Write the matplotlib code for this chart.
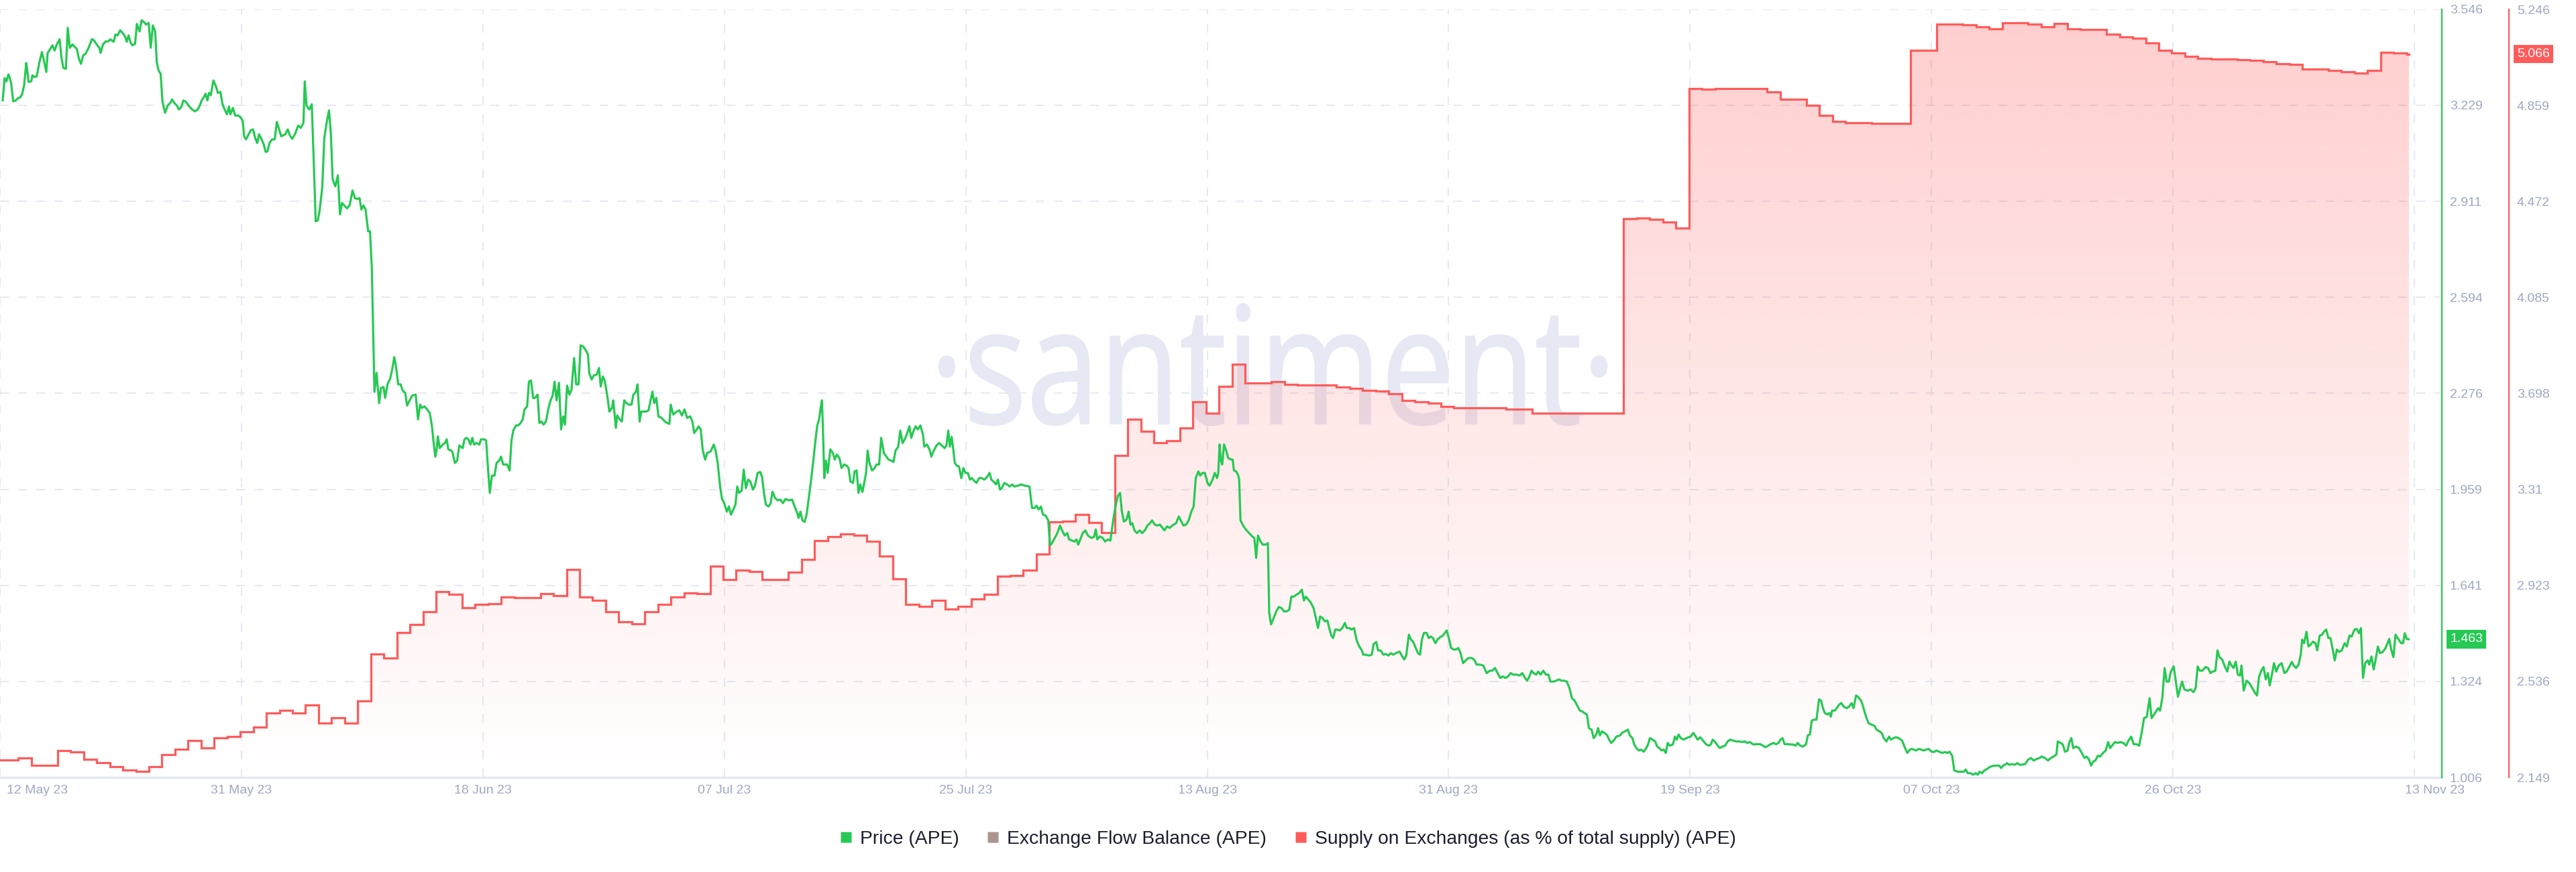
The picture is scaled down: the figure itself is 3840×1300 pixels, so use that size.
import numpy as np
import pandas as pd
import matplotlib
matplotlib.use("Agg")
import matplotlib.pyplot as plt
import matplotlib.dates as mdates
from matplotlib.colors import to_rgb
from matplotlib.font_manager import FontProperties
from matplotlib.lines import Line2D
from matplotlib.patches import PathPatch
from matplotlib.textpath import TextPath
from matplotlib.transforms import Affine2D, ScaledTranslation, blended_transform_factory

# ---------------- data ----------------
start_date = "2023-05-12"

# price of APE: time in days since 12 May 2023 00:00, value in USD
price_day = [
    0.71, 0.85, 0.99, 1.15, 1.25, 1.35, 1.51, 1.71, 1.89, 2.05, 2.19, 2.35, 2.51, 2.59, 2.69, 2.89, 2.99, 3.11, 3.31, 3.51,
    3.71, 3.89, 4.05, 4.15, 4.35, 4.51, 4.69, 4.85, 5.07, 5.21, 5.35, 5.55, 5.69, 5.85, 6.05, 6.39, 6.55, 6.71, 6.87, 7.05,
    7.29, 7.55, 7.71, 7.91, 8.11, 8.21, 8.39, 8.59, 8.79, 8.95, 9.21, 9.35, 9.51, 9.71, 9.95, 10.09, 10.21, 10.35, 10.51, 10.65,
    10.85, 10.99, 11.09, 11.19, 11.35, 11.51, 11.69, 11.89, 12.05, 12.21, 12.39, 12.51, 12.65, 12.81, 12.95, 13.15, 13.35, 13.55, 13.69, 13.85,
    14.05, 14.21, 14.39, 14.55, 14.75, 14.95, 15.21, 15.45, 15.65, 15.81, 15.95, 16.15, 16.25, 16.39, 16.51, 16.65, 16.85, 17.05, 17.19, 17.39,
    17.55, 17.71, 17.89, 18.05, 18.15, 18.35, 18.51, 18.75, 18.91, 19.09, 19.21, 19.35, 19.55, 19.71, 19.89, 20.05, 20.21, 20.35, 20.55, 20.71,
    20.85, 20.99, 21.15, 21.35, 21.55, 21.71, 21.85, 22.05, 22.35, 22.55, 22.71, 22.89, 23.11, 23.35, 23.55, 23.75, 23.85, 23.99, 24.19, 24.39,
    24.55, 24.69, 24.85, 24.99, 25.19, 25.35, 25.55, 25.71, 25.85, 25.99, 26.19, 26.39, 26.55, 26.71, 26.95, 27.09, 27.29, 27.51, 27.69, 27.89,
    28.05, 28.19, 28.35, 28.51, 28.71, 28.85, 28.99, 29.19, 29.35, 29.55, 29.69, 29.89, 30.01, 30.19, 30.39, 30.55, 30.71, 30.85, 31.01, 31.19,
    31.35,
    31.55, 31.69, 31.89, 32.09, 32.35, 32.53, 32.69, 32.83, 33.03, 33.23, 33.43, 33.59, 33.75, 33.85, 33.95, 34.05, 34.19, 34.43, 34.59, 34.73,
    34.85, 35.09, 35.19, 35.35, 35.53, 35.69, 35.95, 36.09, 36.23, 36.39, 36.55, 36.69, 36.83, 37.03, 37.23, 37.35, 37.63, 37.75, 37.89, 38.03,
    38.19, 38.39, 38.55, 38.75, 38.89, 39.05, 39.35, 39.55, 39.69, 39.83, 40.03, 40.19, 40.39, 40.55, 40.69, 40.89, 41.03, 41.19, 41.35, 41.49,
    41.69, 41.83, 41.99, 42.15, 42.33, 42.53, 42.69, 42.85, 42.99, 43.15, 43.33, 43.49, 43.65, 43.79, 43.95, 44.13, 44.29, 44.49, 44.65, 44.83,
    44.99, 45.19, 45.39, 45.55, 45.65, 45.83, 45.99, 46.23, 46.39, 46.53, 46.69, 46.83, 47.03, 47.19, 47.39, 47.49, 47.69, 47.79, 47.99, 48.15,
    48.33, 48.49, 48.69, 48.89, 49.03, 49.23, 49.35, 49.51, 49.63, 49.83, 50.03, 50.19, 50.35, 50.49, 50.63, 50.79, 50.95, 51.19, 51.49, 51.79,
    51.89, 52.09, 52.35, 52.55, 52.75, 52.95, 53.15, 53.39, 53.55, 53.69, 53.89, 54.03, 54.19, 54.35, 54.53, 54.69, 54.95, 55.19, 55.33, 55.49,
    55.69, 55.83, 55.99, 56.19, 56.35, 56.51, 56.69, 56.85, 56.99, 57.13, 57.33, 57.49, 57.65, 57.83, 57.99, 58.19, 58.35, 58.55, 58.75, 58.89,
    59.05, 59.19, 59.39, 59.55, 59.69, 59.89, 60.09, 60.29, 60.49, 60.69, 60.95, 61.19, 61.39, 61.59, 61.69, 61.83, 61.99, 62.15, 62.29,
    62.42, 62.62, 62.82, 62.98, 63.12, 63.26, 63.38, 63.48, 63.56, 63.66, 63.78, 63.92, 64.12, 64.32, 64.46, 64.62, 64.82, 64.98, 65.18, 65.38,
    65.52, 65.66, 65.86, 65.98, 66.14, 66.28, 66.42, 66.58, 66.72, 66.86, 66.98, 67.12, 67.32, 67.52, 67.66, 67.86, 68.02, 68.22, 68.42, 68.58,
    68.78, 68.96, 69.12, 69.32, 69.48, 69.66, 69.82, 69.98, 70.18, 70.32, 70.48, 70.66, 70.82, 71.02, 71.22, 71.32, 71.52, 71.72, 71.86, 72.02,
    72.26, 72.46, 72.66, 72.88, 73.02, 73.16, 73.28, 73.42, 73.54, 73.66, 73.82, 73.98, 74.16, 74.32, 74.48, 74.66, 74.82, 74.96, 75.12, 75.32,
    75.52, 75.72, 75.92, 76.12, 76.32, 76.46, 76.66, 76.82, 76.96, 77.12, 77.26, 77.46, 77.66, 77.86, 78.06, 78.22, 78.52, 78.72, 79.02, 79.38,
    79.58, 79.78, 79.92, 80.08, 80.26, 80.42, 80.62, 80.82, 80.96, 81.18, 81.42, 81.56, 81.72, 81.92, 82.08, 82.28, 82.42, 82.66, 82.82, 82.98,
    83.12, 83.32, 83.46, 83.66, 83.86, 84.12, 84.32, 84.46, 84.58, 84.78, 84.98, 85.18, 85.38, 85.58, 85.66, 85.82, 86.02, 86.16, 86.32, 86.46,
    86.62, 86.82, 86.98, 87.12, 87.26, 87.42, 87.62, 87.82, 88.02, 88.22, 88.42, 88.62, 88.78, 88.98, 89.18, 89.38, 89.58, 89.72, 89.92, 90.12,
    90.32, 90.62, 90.82, 91.02, 91.18, 91.38, 91.58, 91.78, 91.96, 92.12, 92.32, 92.46, 92.62, 92.82, 93.02, 93.18, 93.38, 93.58,
    93.75, 93.85, 93.95, 94.05, 94.15, 94.29, 94.45, 94.61, 94.85, 94.95, 95.05, 95.21, 95.35, 95.45, 95.55, 95.75, 95.95, 96.21, 96.45, 96.61,
    96.75, 96.89, 97.05, 97.25, 97.49, 97.65, 97.75, 97.89, 98.09, 98.29, 98.49, 98.69, 98.89, 99.09, 99.29, 99.45, 99.65, 99.85, 100.05, 100.25,
    100.41, 100.55, 100.75, 100.95, 101.15, 101.35, 101.49, 101.65, 101.85, 102.01, 102.21, 102.35, 102.51, 102.65, 102.81, 102.95, 103.15, 103.35, 103.55, 103.69,
    103.89, 104.05, 104.25, 104.45, 104.65, 104.85, 104.95, 105.15, 105.41, 105.61, 105.75, 105.95, 106.09, 106.29, 106.49, 106.69, 106.89, 107.05, 107.25, 107.45,
    107.75, 107.91, 108.09, 108.25, 108.45, 108.61, 108.79, 108.95, 109.15, 109.31, 109.45, 109.61, 109.81, 109.97, 110.15, 110.29, 110.49, 110.65, 110.85, 111.05,
    111.21, 111.35, 111.51, 111.69, 111.89, 112.05, 112.25, 112.41, 112.61, 112.81, 113.01, 113.25, 113.45, 113.65, 113.91, 114.15, 114.41, 114.65, 114.85, 115.05,
    115.25, 115.45, 115.65, 115.85, 116.05, 116.25, 116.45, 116.71, 116.95, 117.15, 117.35, 117.51, 117.69, 117.85, 118.01, 118.21, 118.35, 118.55, 118.75, 118.95,
    119.15, 119.29, 119.55, 119.75, 119.95, 120.15, 120.35, 120.55, 120.75, 120.95, 121.15, 121.35, 121.55, 121.75, 121.89, 122.09, 122.25, 122.45, 122.61, 122.81,
    122.95, 123.09, 123.25, 123.45, 123.65, 123.79, 123.95, 124.15, 124.35,
    124.64, 124.78, 124.98, 125.24, 125.38, 125.58, 125.72, 125.88, 126.08, 126.24, 126.44, 126.64, 126.78, 126.92, 127.12, 127.32, 127.48, 127.64, 127.82, 127.98,
    128.14, 128.28, 128.44, 128.68, 128.84, 128.98, 129.12, 129.28, 129.52, 129.72, 129.88, 130.04, 130.24, 130.44, 130.58, 130.78, 130.98, 131.24, 131.44, 131.58,
    131.74, 131.92, 132.12, 132.28, 132.48, 132.68, 132.88, 133.08, 133.28, 133.52, 133.78, 133.98, 134.18, 134.38, 134.58, 134.84, 135.12, 135.38, 135.58, 135.78,
    135.98, 136.18, 136.38, 136.58, 136.78, 136.92, 137.08, 137.24, 137.48, 137.68, 137.88, 138.08, 138.24, 138.44, 138.64, 138.88, 139.02, 139.18, 139.32, 139.48,
    139.68, 139.88, 140.04, 140.18, 140.32, 140.52, 140.68, 140.78, 140.88, 141.08, 141.24, 141.42, 141.58, 141.78, 141.98, 142.18, 142.38, 142.52, 142.72, 142.88,
    143.04, 143.18, 143.34, 143.52, 143.68, 143.88, 144.12, 144.28, 144.52, 144.68, 144.84, 145.04, 145.24, 145.38, 145.58, 145.78, 145.98, 146.24, 146.44, 146.64,
    146.84, 146.98, 147.14, 147.32, 147.52, 147.72, 147.88, 148.08, 148.28, 148.52, 148.68, 148.88, 149.08, 149.32, 149.52, 149.72, 149.88, 150.08, 150.24, 150.48,
    150.78, 150.98, 151.12, 151.28, 151.48, 151.68, 151.88, 152.04, 152.18, 152.38, 152.54, 152.68, 152.84, 153.04, 153.28, 153.48, 153.68, 153.84, 153.98, 154.12,
    154.28, 154.44, 154.68, 154.88, 155.08, 155.24,
    155.36, 155.68, 155.90, 156.12, 156.33, 156.55, 156.77, 156.94, 157.20, 157.42, 157.63, 157.85, 158.07, 158.17, 158.39, 158.56, 158.72, 158.93, 159.04, 159.21,
    159.36, 159.58, 159.80, 160.01, 160.23, 160.38, 160.56, 160.73, 160.88, 161.05, 161.25, 161.42, 161.64, 161.85, 162.03, 162.18, 162.33, 162.55, 162.76, 162.98,
    163.20, 163.41, 163.59, 163.80, 163.98, 164.19, 164.41, 164.63, 164.78, 164.99, 165.21, 165.36, 165.58, 165.86, 166.01, 166.18, 166.36, 166.51, 166.68, 166.83,
    167.05, 167.22, 167.38, 167.53, 167.70, 167.87, 168.13, 168.35, 168.57, 168.74, 168.89, 169.06, 169.26, 169.48, 169.69, 169.87, 170.04, 170.25, 170.41, 170.56,
    170.77, 170.99, 171.16, 171.32, 171.49, 171.64, 171.81, 171.97, 172.14, 172.25, 172.42, 172.64, 172.85, 173.07, 173.29, 173.44, 173.59, 173.76, 173.94, 174.11,
    174.28, 174.41, 174.58, 174.74, 174.91, 175.10, 175.32, 175.54, 175.71, 175.93, 176.10, 176.25, 176.43, 176.62, 176.79, 176.90, 177.05, 177.23, 177.38, 177.55,
    177.72, 177.92, 178.05, 178.24, 178.42, 178.57, 178.74, 178.91, 179.07, 179.24, 179.39, 179.56, 179.74, 179.93, 180.15, 180.32, 180.52, 180.69, 180.91, 181.08,
    181.25, 181.40, 181.56, 181.73, 181.92, 182.03, 182.21, 182.38, 182.53, 182.70, 182.86, 183.07, 183.29, 183.57, 183.72, 183.89, 184.05, 184.26, 184.48, 184.63,
    184.76, 184.91, 185.06,
]
price_usd = [
    3.245, 3.319, 3.308, 3.331, 3.319, 3.303, 3.242, 3.245, 3.253, 3.255, 3.265, 3.295, 3.369, 3.344, 3.306, 3.308, 3.328, 3.323, 3.324, 3.369,
    3.405, 3.372, 3.339, 3.402, 3.415, 3.427, 3.410, 3.430, 3.447, 3.386, 3.353, 3.349, 3.485, 3.419, 3.430, 3.415, 3.382, 3.366, 3.394, 3.399,
    3.419, 3.448, 3.443, 3.430, 3.419, 3.402, 3.430, 3.440, 3.440, 3.447, 3.439, 3.463, 3.460, 3.477, 3.465, 3.455, 3.439, 3.460, 3.435, 3.427,
    3.432, 3.498, 3.485, 3.473, 3.510, 3.505, 3.496, 3.501, 3.419, 3.493, 3.473, 3.372, 3.344, 3.333, 3.240, 3.204, 3.228, 3.237, 3.248, 3.237,
    3.228, 3.215, 3.223, 3.245, 3.240, 3.228, 3.215, 3.209, 3.215, 3.228, 3.245, 3.258, 3.267, 3.245, 3.270, 3.262, 3.311, 3.291, 3.270, 3.273,
    3.232, 3.215, 3.199, 3.225, 3.199, 3.220, 3.195, 3.195, 3.190, 3.179, 3.126, 3.116, 3.133, 3.146, 3.149, 3.121, 3.104, 3.133, 3.116, 3.099,
    3.075, 3.076, 3.104, 3.116, 3.116, 3.174, 3.154, 3.126, 3.133, 3.149, 3.129, 3.118, 3.134, 3.162, 3.154, 3.171, 3.308, 3.228, 3.215, 3.232,
    3.030, 2.845, 2.848, 2.881, 2.956, 3.121, 3.176, 3.212, 3.137, 2.984, 2.961, 2.997, 2.868, 2.906, 2.894, 2.888, 2.898, 2.947, 2.922, 2.919,
    2.922, 2.884, 2.898, 2.884, 2.812, 2.812, 2.691, 2.281, 2.344, 2.244, 2.294, 2.297, 2.261, 2.306, 2.324, 2.355, 2.396, 2.363, 2.306, 2.306,
    2.286,
    2.277, 2.236, 2.253, 2.269, 2.272, 2.190, 2.239, 2.228, 2.233, 2.223, 2.211, 2.170, 2.104, 2.067, 2.087, 2.134, 2.095, 2.107, 2.112, 2.124,
    2.091, 2.087, 2.079, 2.046, 2.054, 2.104, 2.095, 2.124, 2.129, 2.124, 2.107, 2.129, 2.107, 2.112, 2.107, 2.124, 2.124, 2.120, 2.029, 1.947,
    2.004, 2.004, 2.046, 2.054, 2.067, 2.041, 2.041, 2.021, 2.120, 2.153, 2.170, 2.170, 2.178, 2.190, 2.223, 2.233, 2.315, 2.319, 2.261, 2.261,
    2.272, 2.178, 2.183, 2.173, 2.183, 2.228, 2.253, 2.269, 2.315, 2.253, 2.311, 2.157, 2.200, 2.173, 2.302, 2.272, 2.289, 2.393, 2.306, 2.306,
    2.435, 2.431, 2.418, 2.405, 2.343, 2.322, 2.335, 2.339, 2.360, 2.299, 2.332, 2.319, 2.269, 2.216, 2.228, 2.253, 2.162, 2.203, 2.190, 2.183,
    2.253, 2.244, 2.239, 2.239, 2.272, 2.282, 2.306, 2.183, 2.216, 2.216, 2.216, 2.220, 2.253, 2.282, 2.244, 2.261, 2.200, 2.195, 2.181, 2.175,
    2.239, 2.206, 2.216, 2.220, 2.203, 2.223, 2.195, 2.200, 2.183, 2.145, 2.157, 2.167, 2.157, 2.087, 2.057, 2.079, 2.084, 2.107, 2.087, 2.046,
    1.963, 1.927, 1.913, 1.885, 1.902, 1.875, 1.892, 1.908, 1.968, 1.947, 1.955, 2.024, 1.963, 1.991, 1.985, 1.958, 1.971, 2.013, 2.016, 2.000,
    1.942, 1.908, 1.902, 1.913, 1.951, 1.930, 1.922, 1.925, 1.913, 1.927, 1.922, 1.925, 1.902, 1.880, 1.864, 1.885, 1.856, 1.851, 1.872,
    1.913, 1.980, 2.054, 2.120, 2.170, 2.190, 2.228, 2.253, 2.153, 1.996, 2.054, 2.013, 2.091, 2.079, 2.057, 2.074, 2.062, 2.029, 2.041, 2.037,
    2.029, 1.985, 1.980, 2.018, 2.021, 1.947, 1.975, 1.950, 1.980, 2.013, 2.087, 2.046, 2.021, 2.029, 2.041, 2.041, 2.129, 2.079, 2.067, 2.057,
    2.054, 2.049, 2.087, 2.099, 2.153, 2.112, 2.124, 2.140, 2.167, 2.129, 2.150, 2.167, 2.157, 2.170, 2.140, 2.100, 2.107, 2.091, 2.067, 2.084,
    2.104, 2.112, 2.104, 2.095, 2.104, 2.153, 2.100, 2.132, 2.091, 2.046, 2.037, 2.034, 1.996, 2.029, 2.013, 2.013, 1.991, 1.996, 1.988, 1.980,
    1.996, 1.996, 1.991, 1.999, 2.013, 1.991, 1.983, 1.975, 1.991, 1.958, 1.963, 1.980, 1.975, 1.968, 1.975, 1.968, 1.971, 1.975, 1.971, 1.968,
    1.897, 1.897, 1.905, 1.892, 1.902, 1.875, 1.872, 1.856, 1.773, 1.786, 1.806, 1.819, 1.839, 1.819, 1.806, 1.814, 1.793, 1.789, 1.786, 1.793,
    1.776, 1.798, 1.814, 1.823, 1.806, 1.798, 1.801, 1.826, 1.793, 1.803, 1.798, 1.786, 1.793, 1.789, 1.814, 1.864, 1.913, 1.938, 1.947, 1.885,
    1.852, 1.859, 1.885, 1.842, 1.847, 1.823, 1.814, 1.823, 1.814, 1.823, 1.839, 1.847, 1.856, 1.842, 1.839, 1.842, 1.831, 1.823, 1.836, 1.831,
    1.839, 1.847, 1.869, 1.852, 1.839, 1.842, 1.856, 1.885, 1.902, 1.996, 2.018, 2.004, 2.013, 2.013, 1.980, 1.971, 1.988, 2.013,
    1.996, 2.013, 2.107, 2.054, 2.041, 2.107, 2.087, 2.062, 2.057, 2.057, 2.021, 2.018, 2.008, 1.991, 1.856, 1.839, 1.826, 1.814, 1.803, 1.798,
    1.732, 1.806, 1.789, 1.776, 1.776, 1.781, 1.550, 1.512, 1.533, 1.555, 1.570, 1.566, 1.555, 1.555, 1.561, 1.604, 1.604, 1.611, 1.616, 1.627,
    1.591, 1.604, 1.594, 1.583, 1.566, 1.528, 1.500, 1.538, 1.533, 1.522, 1.525, 1.500, 1.475, 1.467, 1.495, 1.495, 1.492, 1.500, 1.517, 1.500,
    1.500, 1.495, 1.500, 1.459, 1.439, 1.426, 1.412, 1.412, 1.409, 1.412, 1.447, 1.454, 1.426, 1.426, 1.412, 1.414, 1.409, 1.417, 1.412, 1.417,
    1.422, 1.409, 1.396, 1.409, 1.478, 1.462, 1.454, 1.437, 1.417, 1.412, 1.462, 1.484, 1.484, 1.467, 1.472, 1.467, 1.450, 1.462, 1.470, 1.475,
    1.484, 1.492, 1.467, 1.434, 1.429, 1.429, 1.434, 1.417, 1.384, 1.393, 1.401, 1.401, 1.396, 1.379, 1.379, 1.376, 1.351, 1.359, 1.359, 1.368,
    1.351, 1.335, 1.340, 1.335, 1.340, 1.351, 1.346, 1.346, 1.343, 1.351, 1.335, 1.326, 1.340, 1.359, 1.351, 1.346, 1.356, 1.346, 1.359, 1.346,
    1.346, 1.323, 1.323, 1.326, 1.330, 1.326, 1.326, 1.323, 1.302, 1.268, 1.260, 1.244, 1.227, 1.224, 1.219, 1.214, 1.169, 1.164, 1.136, 1.148,
    1.169, 1.145, 1.158, 1.153, 1.145, 1.131, 1.120, 1.128, 1.141,
    1.145, 1.153, 1.158, 1.164, 1.145, 1.136, 1.115, 1.103, 1.095, 1.098, 1.091, 1.103, 1.115, 1.136, 1.131, 1.125, 1.108, 1.103, 1.095, 1.098,
    1.087, 1.120, 1.111, 1.115, 1.141, 1.131, 1.148, 1.136, 1.131, 1.136, 1.139, 1.141, 1.153, 1.141, 1.131, 1.139, 1.128, 1.115, 1.111, 1.115,
    1.131, 1.123, 1.111, 1.103, 1.108, 1.111, 1.125, 1.131, 1.128, 1.125, 1.125, 1.123, 1.125, 1.120, 1.123, 1.115, 1.116, 1.116, 1.111, 1.106,
    1.111, 1.116, 1.120, 1.116, 1.120, 1.131, 1.136, 1.116, 1.116, 1.115, 1.115, 1.111, 1.120, 1.111, 1.108, 1.115, 1.145, 1.148, 1.194, 1.197,
    1.197, 1.264, 1.260, 1.235, 1.219, 1.214, 1.219, 1.207, 1.227, 1.227, 1.235, 1.247, 1.252, 1.240, 1.235, 1.240, 1.252, 1.235, 1.277, 1.272,
    1.264, 1.252, 1.227, 1.202, 1.185, 1.181, 1.177, 1.164, 1.158, 1.153, 1.136, 1.125, 1.141, 1.131, 1.136, 1.139, 1.136, 1.128, 1.106, 1.087,
    1.098, 1.100, 1.098, 1.095, 1.100, 1.098, 1.095, 1.098, 1.100, 1.091, 1.090, 1.095, 1.091, 1.087, 1.090, 1.087, 1.091, 1.078, 1.029, 1.025,
    1.025, 1.025, 1.032, 1.020, 1.020, 1.015, 1.020, 1.015, 1.025, 1.020, 1.029, 1.032, 1.037, 1.042, 1.045, 1.045, 1.045, 1.037, 1.045, 1.048,
    1.053, 1.048, 1.050, 1.048, 1.053, 1.048,
    1.048, 1.050, 1.065, 1.070, 1.062, 1.067, 1.070, 1.075, 1.070, 1.062, 1.070, 1.075, 1.082, 1.125, 1.120, 1.115, 1.091, 1.095, 1.120, 1.136,
    1.103, 1.108, 1.103, 1.087, 1.070, 1.075, 1.065, 1.045, 1.058, 1.062, 1.078, 1.075, 1.087, 1.095, 1.123, 1.103, 1.111, 1.123, 1.120, 1.123,
    1.120, 1.111, 1.128, 1.141, 1.116, 1.116, 1.111, 1.161, 1.202, 1.206, 1.268, 1.202, 1.216, 1.235, 1.227, 1.268, 1.368, 1.323, 1.323, 1.355,
    1.373, 1.323, 1.273, 1.298, 1.323, 1.297, 1.293, 1.297, 1.288, 1.302, 1.373, 1.359, 1.359, 1.371, 1.368, 1.351, 1.356, 1.359, 1.426, 1.404,
    1.396, 1.371, 1.356, 1.389, 1.376, 1.368, 1.389, 1.346, 1.343, 1.376, 1.293, 1.326, 1.318, 1.302, 1.285, 1.277, 1.338, 1.359, 1.371, 1.330,
    1.351, 1.310, 1.346, 1.384, 1.356, 1.376, 1.384, 1.351, 1.356, 1.373, 1.388, 1.376, 1.368, 1.379, 1.412, 1.462, 1.450, 1.488, 1.439, 1.445,
    1.455, 1.450, 1.426, 1.475, 1.478, 1.488, 1.495, 1.467, 1.467, 1.429, 1.393, 1.429, 1.421, 1.426, 1.450, 1.439, 1.475, 1.472, 1.495, 1.497,
    1.483, 1.500, 1.335, 1.384, 1.393, 1.379, 1.406, 1.363, 1.396, 1.439, 1.417, 1.421, 1.434, 1.464, 1.429, 1.404, 1.478, 1.464, 1.450, 1.450,
    1.483, 1.464, 1.463,
]

# supply on exchanges (% of total supply): one value per day, first day starts 11 May 2023 21:50
supply_start = "2023-05-11 21:50"
supply_pct = [
    2.218, 2.218, 2.228, 2.198, 2.198, 2.258, 2.252, 2.222, 2.208, 2.192,
    2.178, 2.172, 2.192, 2.242, 2.262, 2.299, 2.268, 2.309, 2.315, 2.333,
    2.353, 2.410, 2.420, 2.410, 2.440, 2.369, 2.389, 2.369, 2.456, 2.647,
    2.631, 2.732, 2.766, 2.817, 2.897, 2.887, 2.833, 2.847, 2.849, 2.877,
    2.873, 2.873, 2.889, 2.883, 2.988, 2.877, 2.863, 2.817, 2.776, 2.768,
    2.817, 2.847, 2.877, 2.893, 2.889, 3.000, 2.948, 2.984, 2.980, 2.948,
    2.948, 2.978, 3.028, 3.105, 3.119, 3.131, 3.125, 3.101, 3.041, 2.950,
    2.847, 2.839, 2.863, 2.829, 2.839, 2.869, 2.887, 2.960, 2.964, 2.984,
    3.049, 3.180, 3.182, 3.210, 3.176, 3.135, 3.448, 3.593, 3.545, 3.498,
    3.508, 3.559, 3.665, 3.619, 3.726, 3.815, 3.740, 3.740, 3.746, 3.734,
    3.730, 3.732, 3.730, 3.724, 3.718, 3.710, 3.706, 3.696, 3.670, 3.664,
    3.658, 3.645, 3.639, 3.639, 3.639, 3.639, 3.635, 3.633, 3.619, 3.619,
    3.617, 3.617, 3.617, 3.619, 3.619, 4.401, 4.405, 4.399, 4.389, 4.365,
    4.926, 4.923, 4.928, 4.928, 4.926, 4.926, 4.913, 4.883, 4.883, 4.859,
    4.819, 4.794, 4.790, 4.790, 4.786, 4.786, 4.786, 5.081, 5.081, 5.186,
    5.186, 5.184, 5.177, 5.167, 5.192, 5.192, 5.186, 5.177, 5.188, 5.167,
    5.165, 5.165, 5.145, 5.135, 5.131, 5.111, 5.081, 5.071, 5.057, 5.049,
    5.046, 5.046, 5.044, 5.040, 5.034, 5.026, 5.024, 5.004, 5.004, 5.000,
    4.994, 4.990, 5.000, 5.073, 5.071, 5.066,
]

price_ticks = [1.006, 1.324, 1.641, 1.959, 2.276, 2.594, 2.911, 3.229, 3.546]
supply_ticks = [2.149, 2.536, 2.923, 3.31, 3.698, 4.085, 4.472, 4.859, 5.246]
x_tick_start = "2023-05-12 12:00"
x_tick_step = "444h"
x_tick_count = 11
x_view_days = (0.5, 187.6)
legend_labels = ["Price (APE)", "Exchange Flow Balance (APE)",
                 "Supply on Exchanges (as % of total supply) (APE)"]
watermark = "\u00b7santiment\u00b7"

# ---------------- style ----------------
GREEN = "#26c953"
RED = "#ff5b5b"
BROWN = "#ab958d"
TICK = "#9ea8c2"
GRID = "#e7e9f2"
AXLINE = "#e2e6ef"
TEXT = "#1c1e2e"
WMARK = "#e6e9f3"

plt.rcParams["font.family"] = ["Liberation Sans", "DejaVu Sans"]
plt.rcParams["lines.scale_dashes"] = False

W, H, DPI = 3840, 1300, 100
PL, PR, PT, PB = 0, 3640, 14, 1159          # plot box in pixels

fig = plt.figure(figsize=(W / DPI, H / DPI), dpi=DPI, facecolor="white")
ax_r = fig.add_axes([PL / W, 1 - PB / H, (PR - PL) / W, (PB - PT) / H])
ax_p = ax_r.twinx()

t0 = pd.Timestamp(start_date)
px = mdates.date2num((t0 + pd.to_timedelta(price_day, unit="D")).to_pydatetime())
sd = pd.date_range(supply_start, periods=len(supply_pct), freq="D").to_pydatetime()
sx = np.append(mdates.date2num(sd), px[-1])
sy = np.append(np.array(supply_pct), supply_pct[-1])

xlo = mdates.date2num((t0 + pd.Timedelta(days=x_view_days[0])).to_pydatetime())
xhi = mdates.date2num((t0 + pd.Timedelta(days=x_view_days[1])).to_pydatetime())

# watermark (behind everything in the plot)
tp = TextPath((0, 0), watermark, size=100, prop=FontProperties(family="Open Sans"))
bb = tp.get_extents()
wx0, wx1, wtop, wbot = 1400, 2395, 453, 634
wtr = (Affine2D().translate(-bb.x0, -bb.y0)
       .scale((wx1 - wx0) / bb.width, (wbot - wtop) / bb.height)
       .translate(wx0, H - wbot).scale(1 / DPI) + fig.dpi_scale_trans)
ax_r.add_artist(PathPatch(tp, transform=wtr, facecolor=WMARK, edgecolor=WMARK,
                          linewidth=1.6, zorder=0.6, clip_on=False))

# gradient area under supply
poly = ax_r.fill_between(sx, sy, supply_ticks[0], step="post",
                         facecolor="none", edgecolor="none")
grad = np.zeros((256, 1, 4))
grad[..., :3] = to_rgb(RED)
grad[:, 0, 3] = np.linspace(0.0, 0.30, 256)
img = ax_r.imshow(grad, extent=[xlo, xhi, supply_ticks[0], supply_ticks[-1]],
                  origin="lower", aspect="auto", zorder=1, interpolation="bilinear")
img.set_clip_path(poly.get_paths()[0], ax_r.transData)
ax_r.step(sx, sy, where="post", color=RED, lw=2.3, zorder=2, solid_joinstyle="miter")

ax_p.plot(px, price_usd, color=GREEN, lw=2.3, zorder=3, solid_joinstyle="round")

# limits / ticks
for a in (ax_r, ax_p):
    a.set_xlim(xlo, xhi)
    for s in ("left", "top", "bottom", "right"):
        a.spines[s].set_visible(False)
ax_r.set_ylim(supply_ticks[0], supply_ticks[-1])
ax_p.set_ylim(price_ticks[0], price_ticks[-1])
ax_r.set_aspect("auto")

ax_r.yaxis.tick_right()
ax_r.set_yticks(supply_ticks)
ax_r.set_yticklabels([f"{v:g}" for v in supply_ticks])
ax_p.set_yticks(price_ticks)
ax_p.set_yticklabels([f"{v:.3f}" for v in price_ticks])

ax_p.spines["right"].set_visible(True)
ax_p.spines["right"].set_color(GREEN)
ax_p.spines["right"].set_linewidth(1.6)
ax_r.spines["right"].set_visible(True)
ax_r.spines["right"].set_position(("outward", 72))
ax_r.spines["right"].set_color(RED)
ax_r.spines["right"].set_linewidth(1.6)
ax_r.spines["bottom"].set_visible(True)
ax_r.spines["bottom"].set_color(AXLINE)
ax_r.spines["bottom"].set_linewidth(2.2)

for a in (ax_r, ax_p):
    a.tick_params(axis="y", which="both", left=False, right=True, length=0,
                  pad=8.6, labelsize=14, labelcolor=TICK, labelleft=False, labelright=True)

xt = pd.date_range(x_tick_start, periods=x_tick_count, freq=x_tick_step).to_pydatetime()
ax_r.set_xticks(mdates.date2num(xt))
ax_r.set_xticklabels([d.strftime("%d %b %y") for d in xt])
ax_r.tick_params(axis="x", length=0, pad=8, labelsize=14, labelcolor=TICK)

ax_r.set_axisbelow(True)
ax_r.grid(True, which="major", axis="both", color=GRID, lw=1.5,
          linestyle=(0, (9.4, 10.1)))

xl = ax_r.get_xticklabels()
xl[0].set_horizontalalignment("left")
xl[0].set_transform(xl[0].get_transform() + ScaledTranslation(10 / DPI, 0, fig.dpi_scale_trans))
xl[-1].set_transform(xl[-1].get_transform() + ScaledTranslation(30 / DPI, 0, fig.dpi_scale_trans))

# last-value tags
def value_tag(ax, y, text, color, dx_px):
    tr = blended_transform_factory(ax.transAxes, ax.transData) + \
        ScaledTranslation(dx_px / DPI, 0, fig.dpi_scale_trans)
    ax.text(1.0, y, text, transform=tr, ha="left", va="center", fontsize=14,
            color="white", clip_on=False, zorder=10,
            bbox=dict(boxstyle="square,pad=0.28", fc=color, ec="none"))

value_tag(ax_p, price_usd[-1], f"{price_usd[-1]:.3f}", GREEN, 12)
value_tag(ax_r, supply_pct[-1], f"{supply_pct[-1]:.3f}", RED, 112)

# legend
handles = [Line2D([], [], marker="s", linestyle="none", markersize=11.5,
                  markerfacecolor=c, markeredgecolor="none") for c in (GREEN, BROWN, RED)]
fig.legend(handles, legend_labels, loc="center", bbox_to_anchor=(0.5, 1 - 1251 / H),
           ncol=3, frameon=False, fontsize=20.3, handlelength=0.6, handletextpad=0.45,
           columnspacing=1.5, labelcolor=TEXT, borderaxespad=0, borderpad=0)

fig.savefig("out.png", dpi=DPI, facecolor="white")
